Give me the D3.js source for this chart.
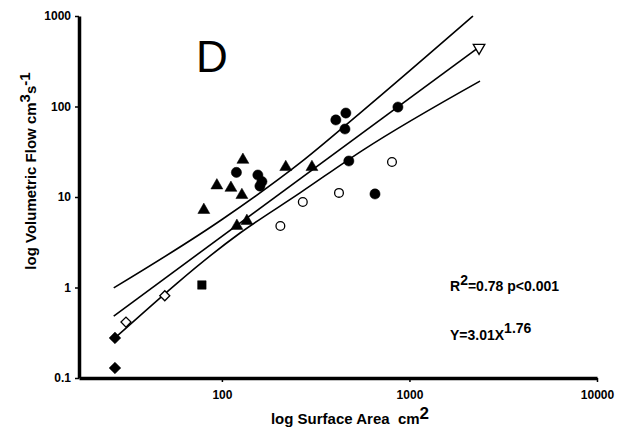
<!DOCTYPE html>
<html lang="en">
<head>
    <meta charset="UTF-8">
    <title>Flow vs Surface Area</title>
    <script src="https://cdn.jsdelivr.net/npm/d3@7/dist/d3.min.js"></script>
    <style>
        body { margin: 0; background: #fff; }
        svg text { font-family: "Liberation Sans", Arial, sans-serif; fill: #000; }
    </style>
</head>
<body>
<svg width="627" height="435"></svg>
<script>
    // tick labels
    var xTicks = [100, 1000, 10000];
    var yTicks = [0.1, 1, 10, 100, 1000];

    // points [surface area, flow]
    var filledDiamonds = [[26.9, 0.277], [26.9, 0.129]];
    var openDiamonds = [[30.8, 0.415], [49.6, 0.81]];
    var filledSquares = [[78.2, 1.066]];
    var filledTriangles = [[80.1, 7.18], [94.0, 13.4], [111.7, 12.6], [127.8, 10.5], [129.4, 25.7],
        [120.2, 4.79], [135.9, 5.43], [219, 21.4], [302, 21.4]];
    var filledCircles = [[119.5, 18.7], [155.5, 17.5], [163.5, 14.8], [159.5, 13.2], [405, 71.0],
        [458, 84.7], [453, 56.4], [868, 98.6], [475, 25.0], [655, 10.8]];
    var openCircles = [[270, 8.8], [421, 11.1], [807, 24.4], [205, 4.79]];
    var openTriangles = [[2350, 447]];

    // regression line and confidence bands
    var fitLine = [[26.5, 0.484], [2350, 454]];
    var upperBand = [[26.5, 0.99], [101, 5.71], [261, 23.8], [545, 84.7], [2180, 1000]];
    var lowerBand = [[26.9, 0.277], [125, 4.0], [261, 11.1], [565, 33.0], [2377, 191]];

    var svg = d3.select("svg");

    var x = d3.scaleLog().domain([17.3, 10000]).range([79, 597]);
    var y = d3.scaleLog().domain([0.1, 1000]).range([378, 16]);

    //lines
    var line = d3.line()
        .x(function(d) { return x(d[0]); })
        .y(function(d) { return y(d[1]); })
        .curve(d3.curveMonotoneX);

    [upperBand, fitLine, lowerBand].forEach(function(data) {
        svg.append("path")
            .datum(data)
            .attr("d", line)
            .attr("fill", "none")
            .attr("stroke", "#000")
            .attr("stroke-width", 1.6);
    });

    //markers
    function drawMarkers(data, type, size, fill, rotate) {
        svg.append("g").selectAll("path")
            .data(data)
            .enter().append("path")
            .attr("d", d3.symbol().type(type).size(size))
            .attr("transform", function(d) {
                return "translate(" + x(d[0]) + "," + y(d[1]) + ")" + (rotate ? " rotate(" + rotate + ")" : "");
            })
            .attr("fill", fill)
            .attr("stroke", "#000")
            .attr("stroke-width", fill === "#fff" ? 1.3 : 0.5);
    }

    drawMarkers(filledDiamonds, d3.symbolSquare, 68, "#000", 45);
    drawMarkers(openDiamonds, d3.symbolSquare, 50, "#fff", 45);
    drawMarkers(filledSquares, d3.symbolSquare, 72, "#000");
    drawMarkers(filledTriangles, d3.symbolTriangle, 62, "#000");
    drawMarkers(filledCircles, d3.symbolCircle, 82, "#000");
    drawMarkers(openCircles, d3.symbolCircle, 60, "#fff");
    drawMarkers(openTriangles, d3.symbolTriangle, 58, "#fff", 180);

    //axes
    var xAxis = svg.append("g")
        .attr("transform", "translate(0,378)")
        .call(d3.axisBottom(x).tickValues(xTicks).tickSize(4).tickSizeOuter(0).tickFormat(d3.format("d")));
    var yAxis = svg.append("g")
        .attr("transform", "translate(79,0)")
        .call(d3.axisLeft(y).tickValues(yTicks).tickSize(4).tickSizeOuter(0).tickFormat(function(d) { return d < 1 ? "0.1" : d3.format("d")(d); }));

    [xAxis, yAxis].forEach(function(a) {
        a.select(".domain").attr("stroke", "#000").attr("stroke-width", 3.5);
        a.selectAll(".tick line").attr("stroke", "#000").attr("stroke-width", 1.5);
        a.selectAll(".tick text")
            .style("font-family", "'Liberation Sans', Arial, sans-serif")
            .style("font-size", "12px")
            .style("font-weight", "bold")
            .attr("fill", "#000");
    });
    xAxis.selectAll(".tick text").attr("y", 12);
    yAxis.selectAll(".tick text").attr("x", -8);

    //titles
    svg.append("text")
        .attr("x", 196)
        .attr("y", 72)
        .style("font-size", "44px")
        .text("D");

    var xLabel = svg.append("text")
        .attr("x", 350)
        .attr("y", 424)
        .attr("text-anchor", "middle")
        .style("font-size", "15px")
        .style("font-weight", "bold");
    xLabel.append("tspan").text("log Surface Area\u00a0 cm");
    xLabel.append("tspan").attr("dy", -5).style("font-size", "17px").text("2");

    var yLabel = svg.append("text")
        .attr("transform", "translate(36,171) rotate(-90)")
        .attr("text-anchor", "middle")
        .style("font-size", "15px")
        .style("font-weight", "bold");
    yLabel.append("tspan").text("log Volumetric Flow cm");
    yLabel.append("tspan").attr("dy", -6).text("3");
    yLabel.append("tspan").attr("dy", 6).text("s");
    yLabel.append("tspan").attr("dy", -6).text("-1");

    var r2 = svg.append("text")
        .attr("x", 450)
        .attr("y", 291)
        .style("font-size", "14px")
        .style("font-weight", "bold");
    r2.append("tspan").text("R");
    r2.append("tspan").attr("dy", -6).text("2");
    r2.append("tspan").attr("dy", 6).text("=0.78 p<0.001");

    var eq = svg.append("text")
        .attr("x", 450)
        .attr("y", 340)
        .style("font-size", "14px")
        .style("font-weight", "bold");
    eq.append("tspan").text("Y=3.01X");
    eq.append("tspan").attr("dy", -7).text("1.76");
</script>
</body>
</html>
